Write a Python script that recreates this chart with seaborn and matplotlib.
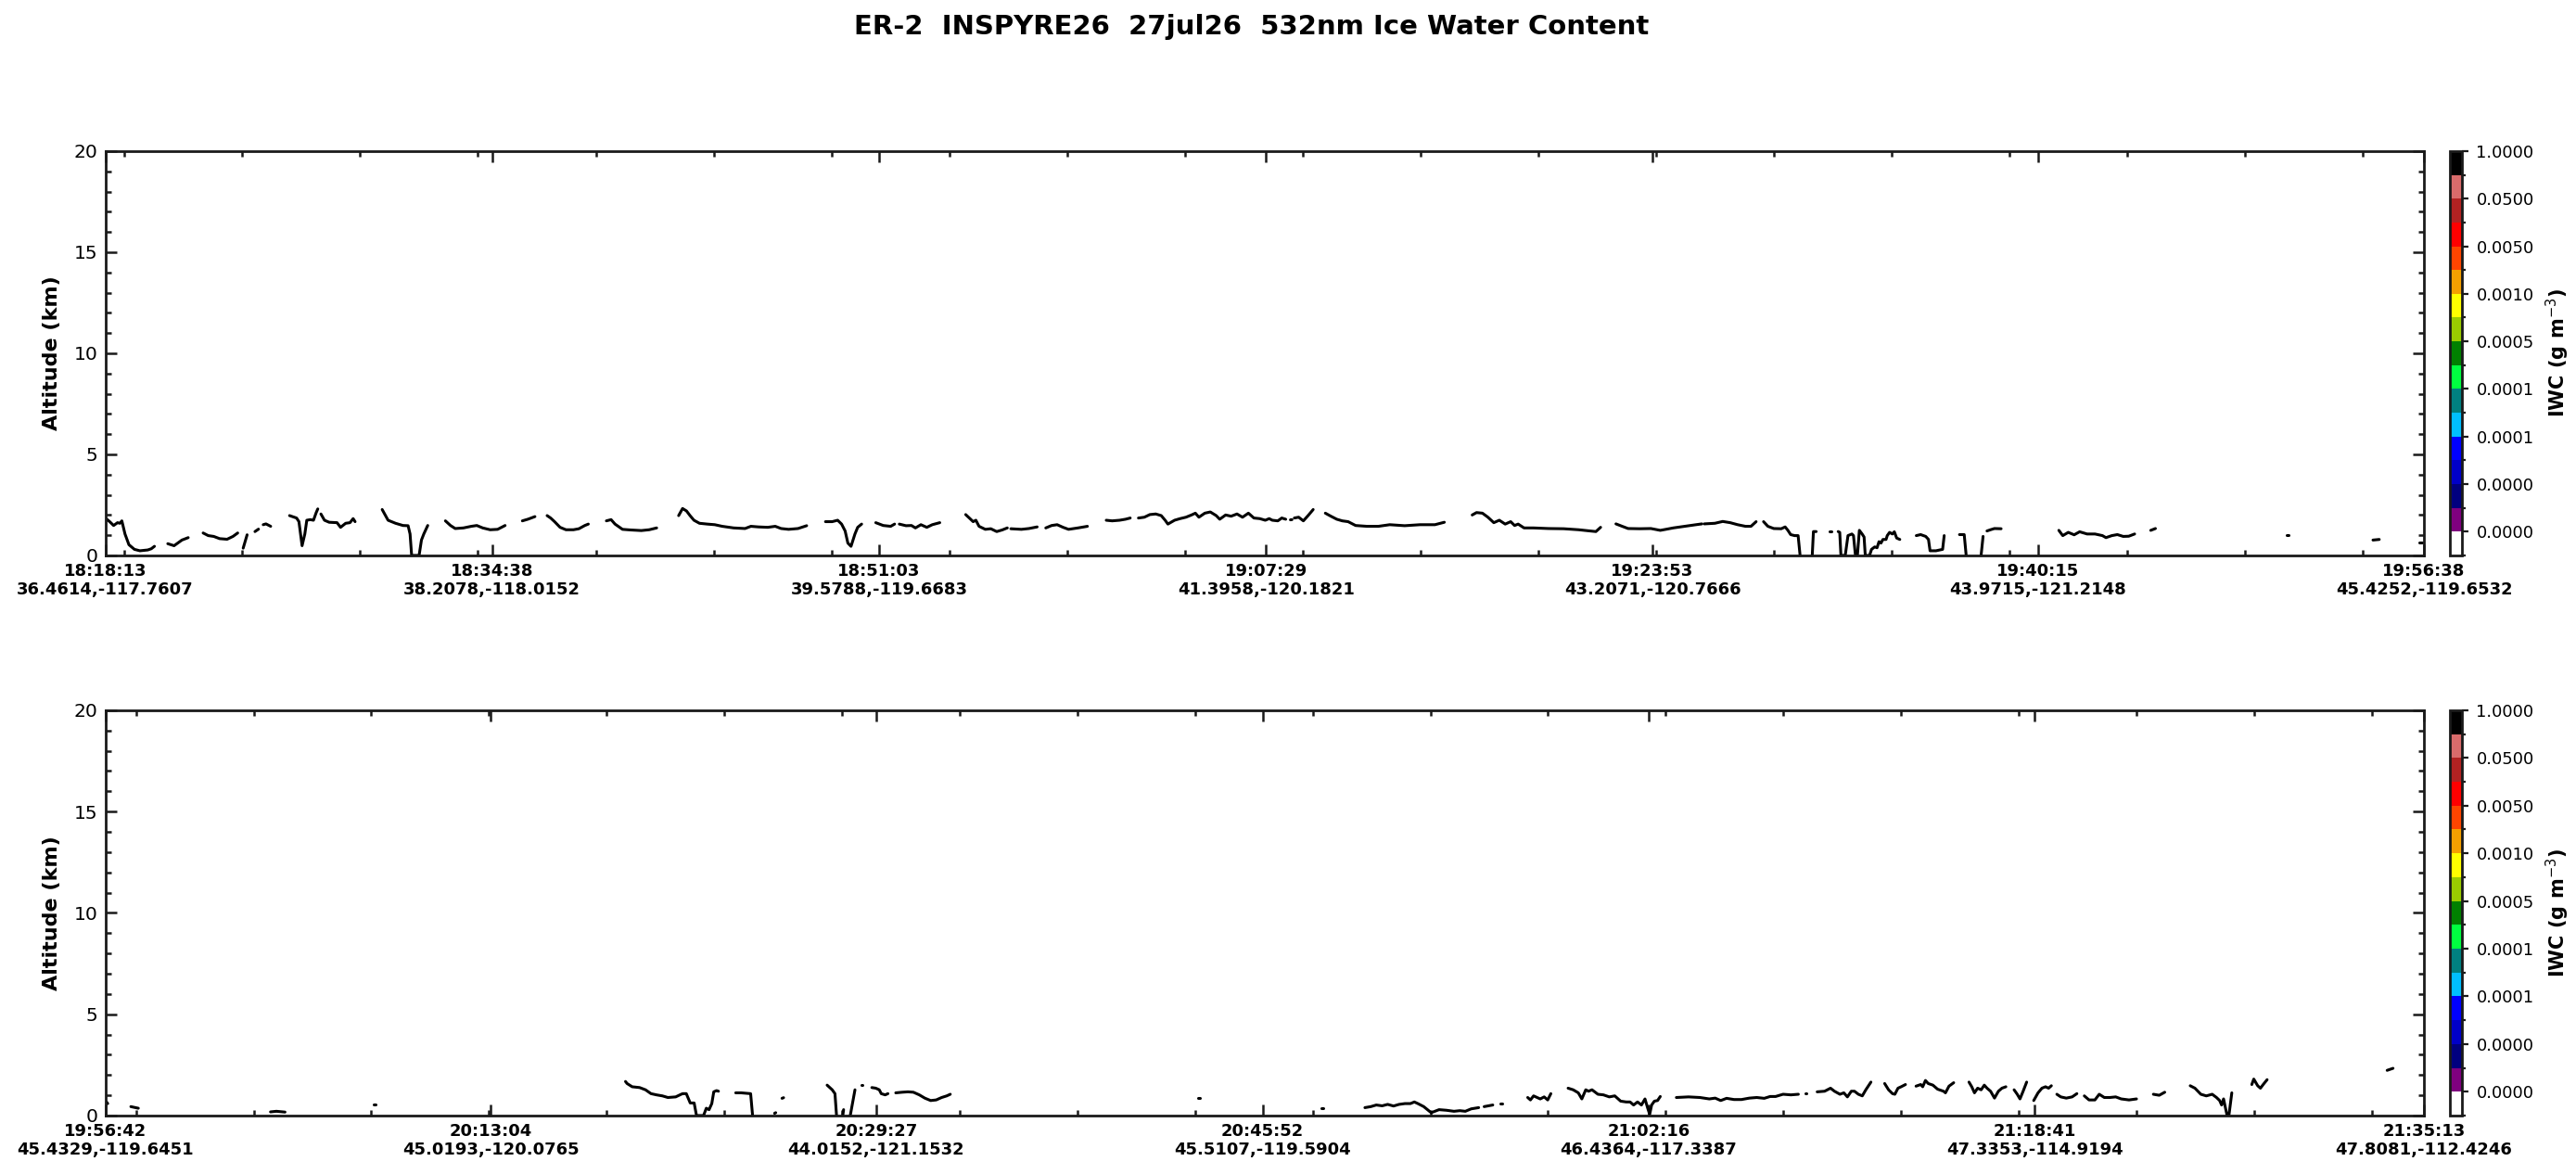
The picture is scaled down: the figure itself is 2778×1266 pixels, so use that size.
import numpy as np
import pandas as pd
import matplotlib
matplotlib.use('Agg')
import matplotlib.pyplot as plt
import seaborn as sns
from matplotlib.colors import ListedColormap, BoundaryNorm
from matplotlib.ticker import FixedLocator, MultipleLocator

# seconds after the first tick time; None separates line pieces
p1_time = [
    2, 11, 21, 31, 37, 42, 50, 60, 74, 88, 108, 117, 125, None,
    159, 175, 195, 211, None,
    249, 262, 276, 291, 310, 325, 337, None,
    351, 361, None,
    381, 390, None,
    402, 409, 421, None,
    469, 487, 493, 501, 508, 513, 522, 530, 537, 541, None,
    549, 558, 570, 590, 599, 612, 623, 631, 636, None,
    705, 720, 739, 758, 771, 776, 780, 799, 805, 811, 821, None,
    866, 879, 891, 912, 932, 946, 961, 980, 999, 1009, 1018, None,
    1062, 1076, 1094, None,
    1125, 1134, 1144, 1158, 1173, 1192, 1206, 1221, 1230, None,
    1276, 1288, 1298, 1317, 1337, 1365, 1385, 1404, None,
    1460, 1470, 1480, 1489, 1499, 1513, 1533, 1552, 1571, 1600, 1629, 1644, 1663, 1687, 1706, 1721, 1740, 1764, 1786, None,
    1834, 1851, 1865, 1875, 1884, 1891, 1899, 1909, 1916, 1926, None,
    1962, 1981, 2000, 2010, None,
    2022, 2039, 2053, 2063, 2077, 2092, 2106, 2125, None,
    2191, 2202, 2210, 2217, 2225, 2241, 2255, 2270, 2284, 2297, None,
    2306, 2333, 2352, 2373, None,
    2395, 2410, 2424, 2439, 2453, 2477, 2501, None,
    2549, 2564, 2583, 2598, 2610, None,
    2631, 2646, 2660, 2675, 2689, 2699, 2706, 2723, 2737, 2752, 2766, 2776, 2785, 2800, 2814,
    2829, 2838, 2853, 2867, 2882, 2896, 2911, 2925, 2940, 2954, 2964, 2972, 2986, 2996, 3006, None,
    3018, 3022, None,
    3028, 3039, 3051, 3063, 3076, None,
    3107, 3121, 3136, 3150, 3165, 3184, 3213, 3242, 3271, 3309, 3348, 3386, 3410, None,
    3481, 3492, 3507, 3521, 3536, 3550, 3565, 3579, 3589, 3598, 3613, 3637, 3675, 3714, 3752, 3781, 3796, 3808, None,
    3847, 3863, 3878, 3907, 3936, 3960, 3974, 3993, 4022, 4051, 4066, None,
    4072, 4099, 4119, 4138, 4157, 4177, 4191, 4204, None,
    4223, 4234, 4249, 4268, 4278, 4285, 4292, 4302, 4311, 4316, None,
    4347, 4350, 4357, None,
    4391, 4396, None,
    4413, 4417, 4420, 4431, 4438, 4448, 4452, 4457, 4462, 4467, 4474, 4479, 4482, 4493,
    4498, 4506, 4512, 4517, 4522, 4527, 4535, 4538, 4544, 4551, 4556, 4562, 4570, None,
    4612, 4623, 4636, 4643, 4647, 4662, 4679, 4683, None,
    4722, 4734, 4739, None,
    4777, 4782, None,
    4792, 4801, 4811, 4828, None,
    4975, 4985, 4999, 5014, 5028, 5047, 5067, 5086, 5095, 5110, 5124, 5139, 5153, 5168, None,
    5209, 5221, None,
    5556, 5561, None,
    5775, 5791, None,
    5893, 5900,
]
p1_alt = [
    1.82, 1.67, 1.48, 1.62, 1.59, 1.71, 1.06, 0.53, 0.30, 0.23, 0.27, 0.33, 0.45, None,
    0.58, 0.48, 0.76, 0.88, None,
    1.11, 0.98, 0.94, 0.83, 0.80, 0.94, 1.11, None,
    0.36, 1.02, None,
    1.18, 1.30, None,
    1.52, 1.56, 1.44, None,
    1.97, 1.85, 1.67, 0.48, 1.06, 1.74, 1.77, 1.74, 2.12, 2.30, None,
    2.05, 1.74, 1.64, 1.62, 1.39, 1.59, 1.62, 1.82, 1.67, None,
    2.27, 1.74, 1.59, 1.48, 1.47, 1.06, 0, 0, 0.76, 1.06, 1.48, None,
    1.71, 1.48, 1.33, 1.36, 1.44, 1.48, 1.36, 1.27, 1.29, 1.39, 1.48, None,
    1.71, 1.79, 1.92, None,
    1.97, 1.85, 1.67, 1.39, 1.27, 1.27, 1.32, 1.48, 1.55, None,
    1.71, 1.77, 1.55, 1.29, 1.26, 1.23, 1.27, 1.36, None,
    1.97, 2.32, 2.20, 1.97, 1.74, 1.59, 1.55, 1.52, 1.44, 1.36, 1.33, 1.44, 1.41, 1.39, 1.44, 1.33, 1.29, 1.33, 1.47, None,
    1.67, 1.67, 1.74, 1.55, 1.21, 0.61, 0.45, 1.06, 1.39, 1.55, None,
    1.62, 1.48, 1.44, 1.55, None,
    1.55, 1.47, 1.48, 1.36, 1.52, 1.39, 1.52, 1.62, None,
    2.02, 1.82, 1.67, 1.74, 1.44, 1.29, 1.32, 1.18, 1.26, 1.36, None,
    1.32, 1.29, 1.33, 1.41, None,
    1.36, 1.48, 1.52, 1.39, 1.29, 1.36, 1.44, None,
    1.74, 1.71, 1.74, 1.79, 1.85, None,
    1.85, 1.89, 2.02, 2.05, 1.97, 1.74, 1.55, 1.74, 1.82, 1.89, 2.00, 2.09, 1.89, 2.09, 2.15,
    1.97, 1.79, 2.00, 1.94, 2.05, 1.89, 2.09, 1.85, 1.82, 1.74, 1.82, 1.74, 1.71, 1.85, 1.79, None,
    1.76, 1.77, None,
    1.85, 1.89, 1.71, 1.97, 2.27, None,
    2.09, 1.94, 1.79, 1.71, 1.67, 1.48, 1.44, 1.44, 1.52, 1.47, 1.52, 1.52, 1.64, None,
    2.00, 2.12, 2.09, 1.89, 1.62, 1.74, 1.55, 1.67, 1.48, 1.55, 1.36, 1.36, 1.33, 1.32, 1.27, 1.21, 1.18, 1.39, None,
    1.56, 1.44, 1.33, 1.32, 1.33, 1.24, 1.29, 1.36, 1.44, 1.52, 1.56, None,
    1.56, 1.59, 1.68, 1.62, 1.52, 1.44, 1.44, 1.67, None,
    1.67, 1.44, 1.33, 1.32, 1.41, 1.24, 1.03, 0.98, 0.98, 0, None,
    0, 1.18, 1.18, None,
    1.18, 1.18, None,
    1.18, 1.14, 0, 0, 0.98, 1.06, 0.98, 0, 0, 1.24, 1.06, 0.91, 0, 0,
    0.30, 0.42, 0.38, 0.68, 0.61, 0.79, 0.79, 0.98, 1.14, 1.06, 1.17, 0.86, 0.79, None,
    0.98, 1.03, 0.94, 0.79, 0.23, 0.23, 0.30, 0.98, None,
    1.03, 1.03, 0, None,
    0, 0.94, None,
    1.21, 1.27, 1.33, 1.32, None,
    1.24, 0.98, 1.14, 1.02, 1.17, 1.06, 1.06, 0.98, 0.88, 0.98, 1.03, 0.94, 0.95, 1.06, None,
    1.24, 1.33, None,
    1.02, 1.02, None,
    0.76, 0.79, None,
    0.65, 0.65,
]

p2_time = [
    3, 6, None,
    65, 84, None,
    421, 436, 458, None,
    684, 688, None,
    1326, 1330, 1343, 1362, 1377, 1391, 1405, 1420, 1434, 1454, 1468, 1472, 1481, 1491, 1501, 1507,
    1525, 1532, 1539, 1546, 1551, 1558, 1563, None,
    1607, 1621, 1645, 1650, None,
    1706, 1709, None,
    1725, 1729, None,
    1840, 1853, 1860, 1864, None,
    1880, 1882, None,
    1899, 1911, None,
    1927, 1931, None,
    1954, 1964, 1973, 1978, 1988, 1995, None,
    2015, 2031, 2046, 2060, 2075, 2089, 2104, 2118, 2132, 2145, 2154, None,
    2786, 2790, None,
    3100, 3104, None,
    3211, 3226, 3240, 3255, 3269, 3284, 3298, 3313, 3327, 3337, 3346, 3361, 3380, 3400, 3419, 3438, 3453, 3467, 3482, 3501, None,
    3515, 3537, None,
    3556, 3560, None,
    3626, 3633, 3641, 3650, 3658, 3668, 3677, 3685, None,
    3729, 3742, 3755, 3764, 3774, 3781, 3790, 3805, 3819, 3834, 3848, 3863, 3877, 3887, 3896, 3906,
    3916, 3925, 3932, 3937, 3942, 3949, 3957, 3964, None,
    4005, 4036, 4065, 4089, 4104, 4118, 4133, 4152, 4171, 4191, 4210, 4229, 4244, 4258, 4277, 4297, 4316, None,
    4333, 4337, None,
    4364, 4383, 4398, 4408, 4422, 4432, 4441, 4451, 4459, 4469, 4479, 4488, 4501, None,
    4536, 4546, 4556, 4562, 4570, 4578, 4589, None,
    4616, 4628, 4633, 4640, 4647, 4659, 4671, 4686, 4691, 4700, 4712, None,
    4751, 4758, 4765, 4773, 4782, 4790, 4797, 4806, 4816, 4826, 4835, 4845, None,
    4866, 4874, 4881, 4889, 4898, None,
    4916, 4927, 4937, 4946, 4954, 4961, None,
    4975, 4985, 4999, 5014, 5026, None,
    5045, 5057, 5072, 5083, 5096, 5110, 5125, 5139, 5159, 5178, None,
    5221, 5236, 5250, None,
    5315, 5327, 5342, 5356, 5371, 5382, 5390, 5395, 5400, 5405, 5409, 5414, 5421, None,
    5472, 5477, 5487, 5494, 5501, 5511, None,
    5817, 5832,
]
p2_alt = [
    0.67, 0.59, None,
    0.44, 0.36, None,
    0.18, 0.21, 0.17, None,
    0.56, 0.56, None,
    1.68, 1.58, 1.42, 1.38, 1.27, 1.08, 1.02, 0.97, 0.89, 0.92, 1.05, 1.08, 1.08, 0.62, 0.62, 0,
    0, 0.36, 0.29, 0.59, 1.17, 1.23, 1.20, None,
    1.12, 1.12, 1.08, 0, None,
    0.11, 0.14, None,
    0.85, 0.88, None,
    1.50, 1.27, 1.08, 0, None,
    0, 0.29, None,
    0, 1.27, None,
    1.53, 1.53, None,
    1.38, 1.35, 1.27, 1.08, 1.02, 1.08, None,
    1.12, 1.15, 1.17, 1.15, 1.02, 0.86, 0.74, 0.77, 0.89, 0.97, 1.05, None,
    0.86, 0.86, None,
    0.36, 0.36, None,
    0.39, 0.44, 0.52, 0.48, 0.55, 0.47, 0.55, 0.59, 0.59, 0.67, 0.59, 0.44, 0.14, 0.29, 0.26, 0.21, 0.24, 0.21, 0.33, 0.39, None,
    0.44, 0.52, None,
    0.59, 0.59, None,
    0.89, 0.77, 0.97, 0.89, 0.82, 0.92, 0.77, 1.08, None,
    1.35, 1.27, 1.12, 0.82, 1.27, 1.20, 1.27, 1.05, 1.02, 0.92, 0.97, 0.71, 0.67, 0.67, 0.52, 0.67,
    0.52, 0.82, 0.36, 0.06, 0.52, 0.71, 0.74, 0.94, None,
    0.89, 0.92, 0.89, 0.82, 0.86, 0.74, 0.85, 0.79, 0.79, 0.86, 0.89, 0.85, 0.94, 0.94, 1.05, 1.02, 1.05, None,
    1.09, 1.09, None,
    1.17, 1.20, 1.35, 1.20, 1.05, 1.12, 0.92, 1.20, 1.20, 1.05, 0.97, 1.27, 1.65, None,
    1.58, 1.27, 1.08, 1.05, 1.35, 1.42, 1.53, None,
    1.45, 1.53, 1.42, 1.73, 1.58, 1.50, 1.30, 1.20, 1.12, 1.45, 1.62, None,
    1.65, 1.42, 1.12, 1.35, 1.27, 1.50, 1.35, 1.20, 0.86, 1.20, 1.35, 1.42, None,
    1.27, 1.05, 0.82, 1.20, 1.65, None,
    0.74, 1.12, 1.35, 1.42, 1.35, 1.47, None,
    1.05, 0.92, 0.86, 0.92, 1.08, None,
    0.97, 0.77, 0.77, 1.05, 0.89, 0.89, 0.92, 0.82, 0.77, 0.82, None,
    1.05, 1.00, 1.15, None,
    1.47, 1.35, 1.05, 0.97, 1.05, 0.89, 0.74, 0.52, 0.82, 0.36, 0, 0.06, 1.12, None,
    1.53, 1.80, 1.47, 1.35, 1.53, 1.77, None,
    2.23, 2.33,
]

p1_tick_times = ['18:18:13', '18:34:38', '18:51:03', '19:07:29', '19:23:53', '19:40:15', '19:56:38']
p1_tick_pos = ['36.4614,-117.7607', '38.2078,-118.0152', '39.5788,-119.6683', '41.3958,-120.1821',
               '43.2071,-120.7666', '43.9715,-121.2148', '45.4252,-119.6532']
p2_tick_times = ['19:56:42', '20:13:04', '20:29:27', '20:45:52', '21:02:16', '21:18:41', '21:35:13']
p2_tick_pos = ['45.4329,-119.6451', '45.0193,-120.0765', '44.0152,-121.1532', '45.5107,-119.5904',
               '46.4364,-117.3387', '47.3353,-114.9194', '47.8081,-112.4246']

iwc_colors = ['#ffffff', '#7f007f', '#00007f', '#0000c8', '#0000ff', '#00bfff', '#008080', '#00ff40',
              '#008000', '#9acd00', '#ffff00', '#f5a000', '#ff4500', '#ff0000', '#b22222', '#d96b6b', '#000000']
iwc_labels = ['0.0000', '0.0000', '0.0001', '0.0001', '0.0005', '0.0010', '0.0050', '0.0500', '1.0000']

sns.set_style('ticks')
plt.rcParams['font.family'] = ['DejaVu Sans']
plt.rcParams['text.color'] = 'black'
plt.rcParams['axes.labelcolor'] = 'black'
plt.rcParams['xtick.color'] = 'black'
plt.rcParams['ytick.color'] = 'black'
ink = '#1a1a1a'


def secs(s):
    h, m, sec = map(int, s.split(':'))
    return h * 3600 + m * 60 + sec


def panel(fig, rect, cb_rect, t, alt, tick_times, tick_pos, minor_off):
    ax = fig.add_axes(rect)
    df = pd.DataFrame({'t': t, 'alt': alt}, dtype=float)
    df['seg'] = df['t'].isna().cumsum()
    df = df.dropna()
    sns.lineplot(data=df, x='t', y='alt', units='seg', estimator=None, sort=False,
                 color='black', lw=1.1, ax=ax, legend=False)

    t0 = secs(tick_times[0])
    major = [secs(s) - t0 for s in tick_times]
    ax.set_xlim(major[0], major[-1])
    ax.set_ylim(0, 20)
    ax.xaxis.set_major_locator(FixedLocator(major))
    ax.xaxis.set_minor_locator(FixedLocator(np.arange(minor_off, major[-1], 300)))
    ax.set_xticklabels([f'{a}\n{b}' for a, b in zip(tick_times, tick_pos)],
                       fontweight='bold', fontsize=6.5, linespacing=1.15)
    ax.yaxis.set_major_locator(MultipleLocator(5))
    ax.yaxis.set_minor_locator(MultipleLocator(1))
    ax.tick_params(axis='y', which='major', labelsize=7.3)
    ax.tick_params(which='both', direction='in', top=True, right=True, color=ink, width=0.9)
    ax.tick_params(which='major', length=4.3, pad=3)
    ax.tick_params(which='minor', length=2.3)
    ax.set_xlabel('')
    ax.set_ylabel('Altitude (km)', fontweight='bold', fontsize=8, labelpad=5)
    for sp in ax.spines.values():
        sp.set_linewidth(1.0)
        sp.set_color(ink)

    cax = fig.add_axes(cb_rect)
    sm = plt.cm.ScalarMappable(norm=BoundaryNorm(np.arange(18), 17), cmap=ListedColormap(iwc_colors))
    cb = fig.colorbar(sm, cax=cax, ticks=np.arange(1, 18, 2))
    cb.ax.set_yticklabels(iwc_labels)
    cb.ax.yaxis.set_minor_locator(FixedLocator(np.arange(0, 18, 2)))
    cb.ax.tick_params(which='major', length=2.6, width=0.8, labelsize=6.5, pad=3, color=ink)
    cb.ax.tick_params(which='minor', length=1.6, width=0.8, color=ink)
    cb.outline.set_linewidth(1.0)
    cb.outline.set_edgecolor(ink)
    cb.set_label('IWC (g m$^{-3}$)', fontweight='bold', fontsize=7.5, labelpad=4)
    return ax


fig = plt.figure(figsize=(13.89, 6.33), dpi=200)
fig.suptitle('ER-2  INSPYRE26  27jul26  532nm Ice Water Content',
             fontweight='bold', fontsize=10.5, x=0.486, y=0.988)

panel(fig, [0.0409, 0.5269, 0.9001, 0.3444], [0.9510, 0.5269, 0.0047, 0.3444],
      p1_time, p1_alt, p1_tick_times, p1_tick_pos, 49)
panel(fig, [0.0409, 0.0498, 0.9001, 0.3452], [0.9510, 0.0498, 0.0047, 0.3452],
      p2_time, p2_alt, p2_tick_times, p2_tick_pos, 78)

fig.savefig('out.png', dpi=200)
